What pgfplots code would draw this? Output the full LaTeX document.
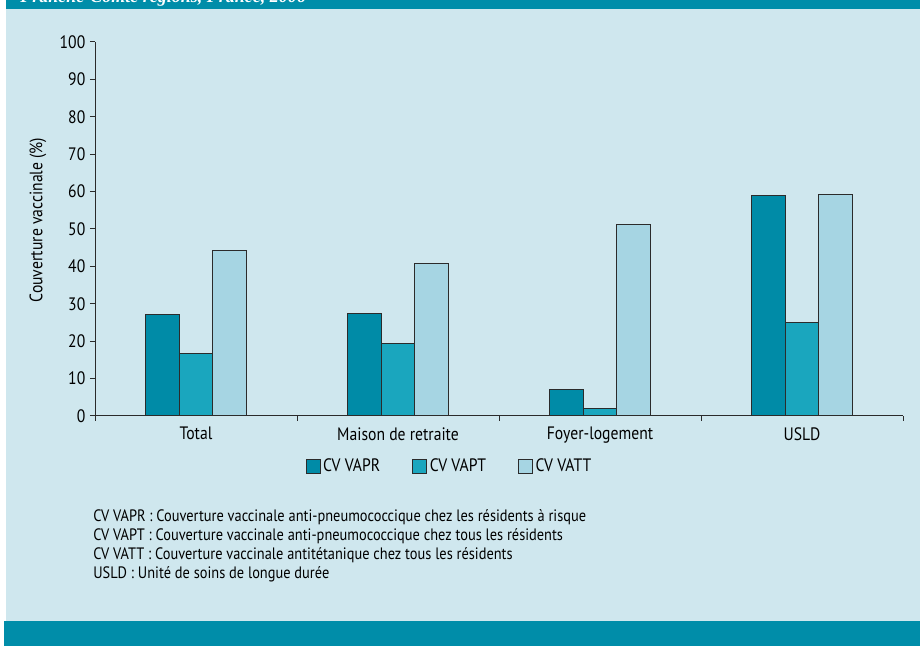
\documentclass[border=0pt]{standalone}
\usepackage{fontspec}
\setmainfont[FakeStretch=0.87]{PT Sans}
\newfontfamily\headfont{Liberation Serif}
\usepackage{pgfplots}
\pgfplotsset{compat=1.18}
\definecolor{band}{HTML}{008DA9}
\definecolor{bg}{HTML}{CFE7EE}
\definecolor{vapr}{HTML}{008BA7}
\definecolor{vapt}{HTML}{1AA6BE}
\definecolor{vatt}{HTML}{A6D5E3}
\definecolor{edge}{HTML}{2B2B2B}
\newcommand\lab{\fontsize{13.5pt}{16pt}\selectfont}
\newcommand\note{\fontsize{12.4pt}{15pt}\selectfont}

\begin{document}
\begin{tikzpicture}
\begin{scope}[x=0.75pt,y=0.75pt]
  \useasboundingbox (0,0) rectangle (920,646);
  \clip (0,0) rectangle (920,646);
  \fill[white] (0,0) rectangle (920,646);
  \fill[bg] (6,25) rectangle (920,637);
  \fill[band] (6,637) rectangle (920,646);
  \fill[band] (4,0) rectangle (920,25);
  \node[anchor=base west, inner sep=0pt, text=white, font=\headfont\bfseries\itshape\fontsize{13.5pt}{16pt}\selectfont] at (20,643.5) {Franche-Comté regions, France, 2006};
  \node[rotate=90, inner sep=0pt, font=\lab] at (38,426) {Couverture vaccinale (\%)};
  \begin{scope}[font=\note]
    \node[anchor=west, inner sep=0pt] at (93,129) {CV VAPR : Couverture vaccinale anti-pneumococcique chez les résidents à risque};
    \node[anchor=west, inner sep=0pt] at (93,110) {CV VAPT : Couverture vaccinale anti-pneumococcique chez tous les résidents};
    \node[anchor=west, inner sep=0pt] at (93,91) {CV VATT : Couverture vaccinale antitétanique chez tous les résidents};
    \node[anchor=west, inner sep=0pt] at (93,72) {USLD : Unité de soins de longue durée};
  \end{scope}
\end{scope}
\begin{axis}[
  at={(71.25pt,172.5pt)}, anchor=south west,
  scale only axis, width=606pt, height=280.5pt,
  xmin=-0.5, xmax=3.5, ymin=0, ymax=100,
  axis lines=left,
  axis line style={-, draw=edge, line width=0.75pt},
  tick style={draw=edge, line width=0.75pt},
  tick align=outside, major tick length=3.75pt,
  ytick={0,10,...,100},
  xtick={-0.5,0.5,1.5,2.5,3.5}, xticklabels={},
  extra x ticks={0,1,2,3},
  extra x tick labels={Total,Maison de retraite,Foyer-logement,USLD},
  extra x tick style={major tick length=0pt, xticklabel style={yshift=-5pt}},
  ticklabel style={font=\lab},
  /pgf/number format/assume math mode=true,
  ybar=0pt, bar width=0.166,
  legend columns=3,
  legend style={at={(0.439,-0.134)}, anchor=center, draw=none, fill=none,
    font=\lab, /tikz/every even column/.append style={column sep=22pt}},
  legend image code/.code={\draw[#1, line width=0.75pt] (0pt,-5.25pt) rectangle (10.5pt,5.25pt);},
]
\addplot[fill=vapr, draw=edge, line width=0.75pt] coordinates {(0,27.2) (1,27.4) (2,7.1) (3,59.0)};
\addplot[fill=vapt, draw=edge, line width=0.75pt] coordinates {(0,16.8) (1,19.4) (2,2.1) (3,25.1)};
\addplot[fill=vatt, draw=edge, line width=0.75pt] coordinates {(0,44.3) (1,40.9) (2,51.3) (3,59.1)};
\legend{CV VAPR,CV VAPT,CV VATT}
\end{axis}
\end{tikzpicture}
\end{document}
